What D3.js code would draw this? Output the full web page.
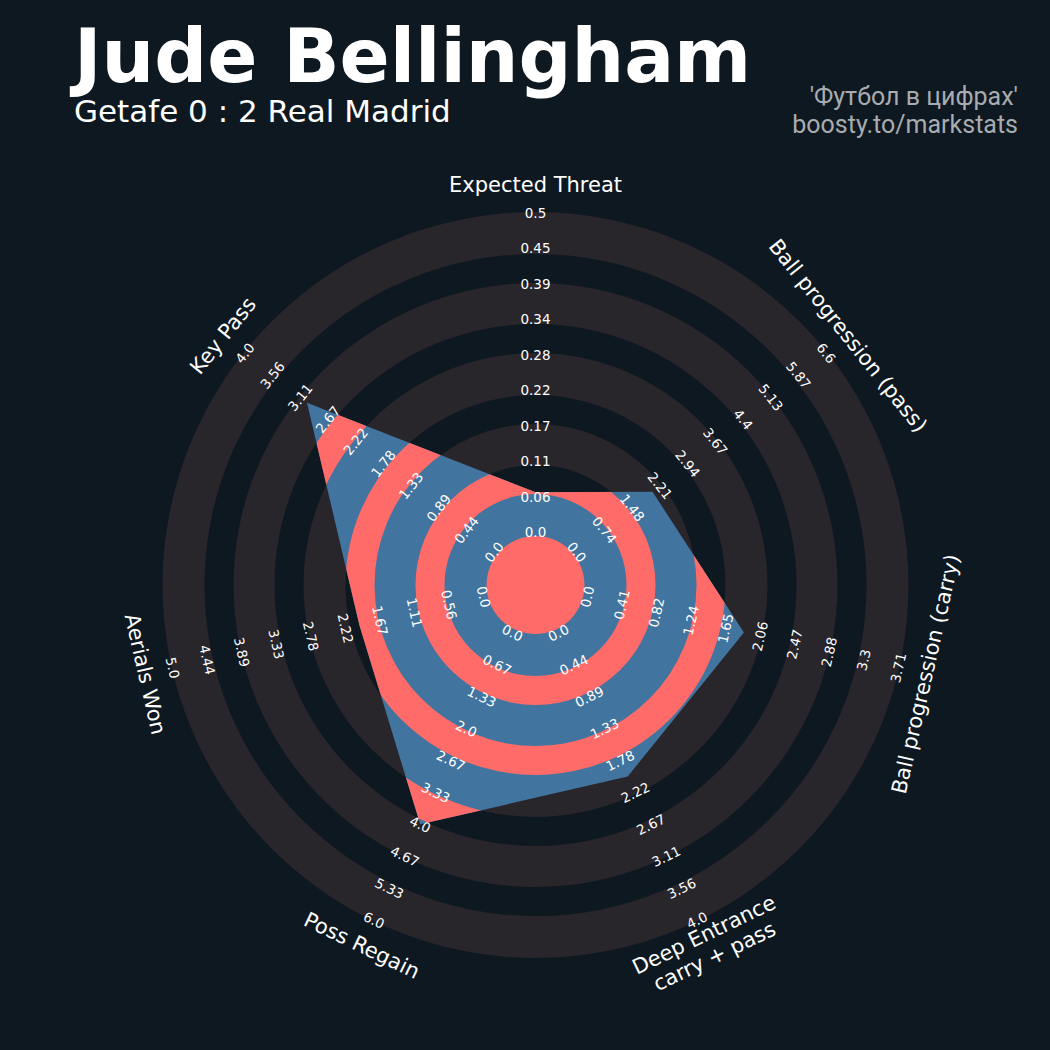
<!DOCTYPE html>
<html>
<head>
<meta charset="utf-8">
<script src="https://cdn.jsdelivr.net/npm/d3@7"></script>
<style>
  html, body { margin: 0; padding: 0; background: #0e1820; }
  svg { display: block; }
</style>
</head>
<body>
<svg id="chart" width="1050" height="1050"></svg>
<script>
// ---------- data ----------
const params = ["Expected Threat", "Ball progression (pass)", "Ball progression (carry)",
                "Deep Entrance\ncarry + pass", "Poss Regain", "Aerials Won", "Key Pass"];
const minRange = [0, 0, 0, 0, 0, 0, 0];
const maxRange = [0.505, 6.6, 3.71, 4.0, 6.0, 5.0, 4.0];
const playerValues = [0.063, 2.0, 1.87, 2.0, 4.0, 2.0, 3.0];

const ticksXT    = ["0.0","0.06","0.11","0.17","0.22","0.28","0.34","0.39","0.45","0.5"];
const ticksPass  = ["0.0","0.74","1.48","2.21","2.94","3.67","4.4","5.13","5.87","6.6"];
const ticksCarry = ["0.0","0.41","0.82","1.24","1.65","2.06","2.47","2.88","3.3","3.71"];
const ticksDeep  = ["0.0","0.44","0.89","1.33","1.78","2.22","2.67","3.11","3.56","4.0"];
const ticksPoss  = ["0.0","0.67","1.33","2.0","2.67","3.33","4.0","4.67","5.33","6.0"];
const ticksAer   = ["0.0","0.56","1.11","1.67","2.22","2.78","3.33","3.89","4.44","5.0"];
const ticksKey   = ["0.0","0.44","0.89","1.33","1.78","2.22","2.67","3.11","3.56","4.0"];
const tickLabels = [ticksXT, ticksPass, ticksCarry, ticksDeep, ticksPoss, ticksAer, ticksKey];

const title = "Jude Bellingham";
const subtitle = "Getafe 0 : 2 Real Madrid";
const credits = ["'Футбол в цифрах'", "boosty.to/markstats"];

// ---------- layout ----------
const W = 1050, H = 1050;
const cx = 535.5, cy = 585;
const rMin = 53, rMax = 372;
// ring band boundaries (radii)
const bandEdges = [0, 49, 91, 120, 161, 190, 232, 261, 302, 331, 373];
const colBg = "#0e1820", colRing = "#28252b", colPink = "#ff6b68", colBlue = "#41759f";
const font = "'DejaVu Sans', sans-serif";

const svg = d3.select("#chart");
svg.append("rect").attr("width", W).attr("height", H).attr("fill", colBg);

const n = params.length;
const angle = i => i * 2 * Math.PI / n; // clockwise from top
const scales = params.map((p, i) => d3.scaleLinear().domain([minRange[i], maxRange[i]]).range([rMin, rMax]));
const tickScale = d3.scaleLinear().domain([0, 9]).range([rMin, rMax]);

const g = svg.append("g").attr("transform", `translate(${cx},${cy})`);
const arc = d3.arc().startAngle(0).endAngle(2 * Math.PI);

// bands: index 0 = center (A), 1 = B, 2 = A, ...
const bands = d3.range(bandEdges.length - 1).map(k => ({inner: bandEdges[k], outer: bandEdges[k + 1], type: k % 2 === 0 ? "A" : "B"}));

// outside rings (B bands grey)
g.selectAll("path.ring").data(bands.filter(b => b.type === "B")).join("path")
  .attr("class", "ring")
  .attr("d", b => arc({innerRadius: b.inner, outerRadius: b.outer}))
  .attr("fill", colRing);

// radar polygon
const radial = d3.lineRadial()
  .angle((d, i) => angle(i))
  .radius((d, i) => scales[i](d))
  .curve(d3.curveLinearClosed);
const polyPath = radial(playerValues);

svg.append("defs").append("clipPath").attr("id", "polyClip")
  .append("path").attr("d", polyPath);

g.append("path").attr("d", polyPath).attr("fill", colBlue);
const inner = g.append("g").attr("clip-path", "url(#polyClip)");
inner.selectAll("path").data(bands.filter(b => b.type === "A")).join("path")
  .attr("d", b => arc({innerRadius: b.inner, outerRadius: b.outer}))
  .attr("fill", colPink);

// label rotation helper
function rot(i) {
  let deg = angle(i) * 180 / Math.PI;
  if (deg > 90 && deg < 270) deg -= 180;
  else if (deg >= 270) deg -= 360;
  return deg;
}
function pos(i, r) {
  const a = angle(i);
  return [r * Math.sin(a), -r * Math.cos(a)];
}

// range labels
params.forEach((p, i) => {
  tickLabels[i].forEach((t, j) => {
    const [x, y] = pos(i, tickScale(j));
    g.append("text")
      .attr("transform", `translate(${x},${y}) rotate(${rot(i)})`)
      .attr("text-anchor", "middle")
      .attr("dominant-baseline", "central")
      .attr("font-family", font)
      .attr("font-size", 13.5)
      .attr("fill", "#ffffff")
      .text(t);
  });
});

// param labels
params.forEach((p, i) => {
  const [x, y] = pos(i, 400);
  const lines = p.split("\n");
  const t = g.append("text")
    .attr("transform", `translate(${x},${y}) rotate(${rot(i)})`)
    .attr("text-anchor", "middle")
    .attr("font-family", font)
    .attr("font-size", 21)
    .attr("fill", "#ffffff");
  lines.forEach((l, k) => {
    t.append("tspan")
      .attr("x", 0)
      .attr("y", (k - (lines.length - 1) / 2) * 24)
      .attr("dy", "0.35em")
      .text(l);
  });
});

// titles
svg.append("text").attr("x", 74).attr("y", 82)
  .attr("font-family", font).attr("font-weight", "bold").attr("font-size", 74)
  .attr("fill", "#ffffff").text(title);
svg.append("text").attr("x", 74).attr("y", 122)
  .attr("font-family", font).attr("font-size", 31)
  .attr("fill", "#ffffff").text(subtitle);
credits.forEach((c, k) => {
  svg.append("text").attr("x", 1018).attr("y", 105 + k * 28)
    .attr("text-anchor", "end")
    .attr("font-family", "Roboto, sans-serif").attr("font-size", 25)
    .attr("fill", "#a8acb0").text(c);
});
</script>
</body>
</html>
